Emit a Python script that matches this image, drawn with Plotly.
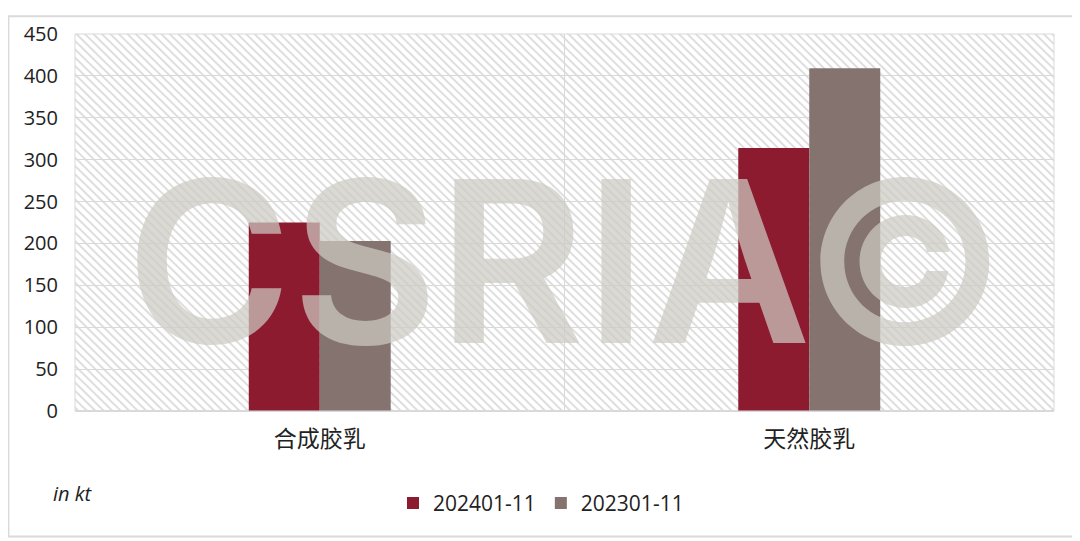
import base64
import plotly.graph_objects as go

categories = ["合成胶乳", "天然胶乳"]
series_names = ["202401-11", "202301-11"]
values_2024 = [225, 314]
values_2023 = [203, 409]
colors = ["#8C1B30", "#857370"]
y_ticks = [0, 50, 100, 150, 200, 250, 300, 350, 400, 450]

# hatch texture for the plot-area background
hatch_svg = (
    '<svg xmlns="http://www.w3.org/2000/svg" width="979" height="384">'
    '<defs><pattern id="p" width="6" height="6" patternUnits="userSpaceOnUse" '
    'patternTransform="rotate(-45)">'
    '<line x1="1" y1="0" x2="1" y2="6" stroke="#dedede" stroke-width="2"/>'
    '</pattern></defs>'
    '<rect width="100%" height="100%" fill="white"/>'
    '<rect width="100%" height="100%" fill="url(#p)"/></svg>'
)
hatch_uri = "data:image/svg+xml;base64," + base64.b64encode(hatch_svg.encode()).decode()

fig = go.Figure()
for name, vals, col in zip(series_names, [values_2024, values_2023], colors):
    fig.add_trace(go.Bar(x=categories, y=vals, name=name,
                         marker=dict(color=col, line=dict(width=0))))

fig.add_annotation(
    text="CSRIA©", xref="paper", yref="paper", x=0.503, y=0.397,
    xanchor="center", yanchor="middle", showarrow=False,
    font=dict(family="Inter", size=225, color="rgba(205,202,194,0.72)", weight=600),
)

fig.add_annotation(
    text="<i>in kt</i>", xref="paper", yref="paper", x=-0.025, y=-0.22,
    xanchor="left", yanchor="middle", showarrow=False,
    font=dict(family="Open Sans", size=20, color="#222"),
)

fig.update_layout(
    width=1072, height=533,
    margin=dict(l=67, r=26, t=19, b=130),
    paper_bgcolor="white", plot_bgcolor="rgba(0,0,0,0)",
    barmode="group", bargap=0.71, bargroupgap=0,
    font=dict(family="Open Sans", size=20, color="#222"),
    images=[dict(source=hatch_uri, xref="paper", yref="paper", x=0, y=1,
                 sizex=1, sizey=1, xanchor="left", yanchor="top",
                 sizing="stretch", layer="below")],
    xaxis=dict(type="category", tickson="boundaries", showgrid=True,
               gridcolor="#d9d9d9", gridwidth=1, showline=False, ticks="",
               tickfont=dict(family="Noto Sans CJK SC", size=23, color="#222"),
               ticklabelstandoff=12),
    yaxis=dict(range=[0, 450], tickvals=y_ticks, showgrid=True, gridcolor="#d9d9d9",
               zeroline=True, zerolinecolor="#d9d9d9", showline=False, ticks="",
               tickfont=dict(size=20), ticklabelstandoff=16),
    legend=dict(orientation="h", x=0.476, xanchor="center", y=-0.245, yanchor="middle",
                font=dict(size=21), itemsizing="constant", traceorder="normal"),
    shapes=[dict(type="rect", xref="paper", yref="paper", x0=-0.068, x1=1.021, y0=-0.333, y1=1.047,
                 line=dict(color="#dadada", width=2), layer="below"),
            dict(type="rect", xref="paper", yref="paper", x0=0, x1=1, y0=0, y1=1,
                 line=dict(color="#d9d9d9", width=1), layer="above")],
)

fig.write_html("out.html")
